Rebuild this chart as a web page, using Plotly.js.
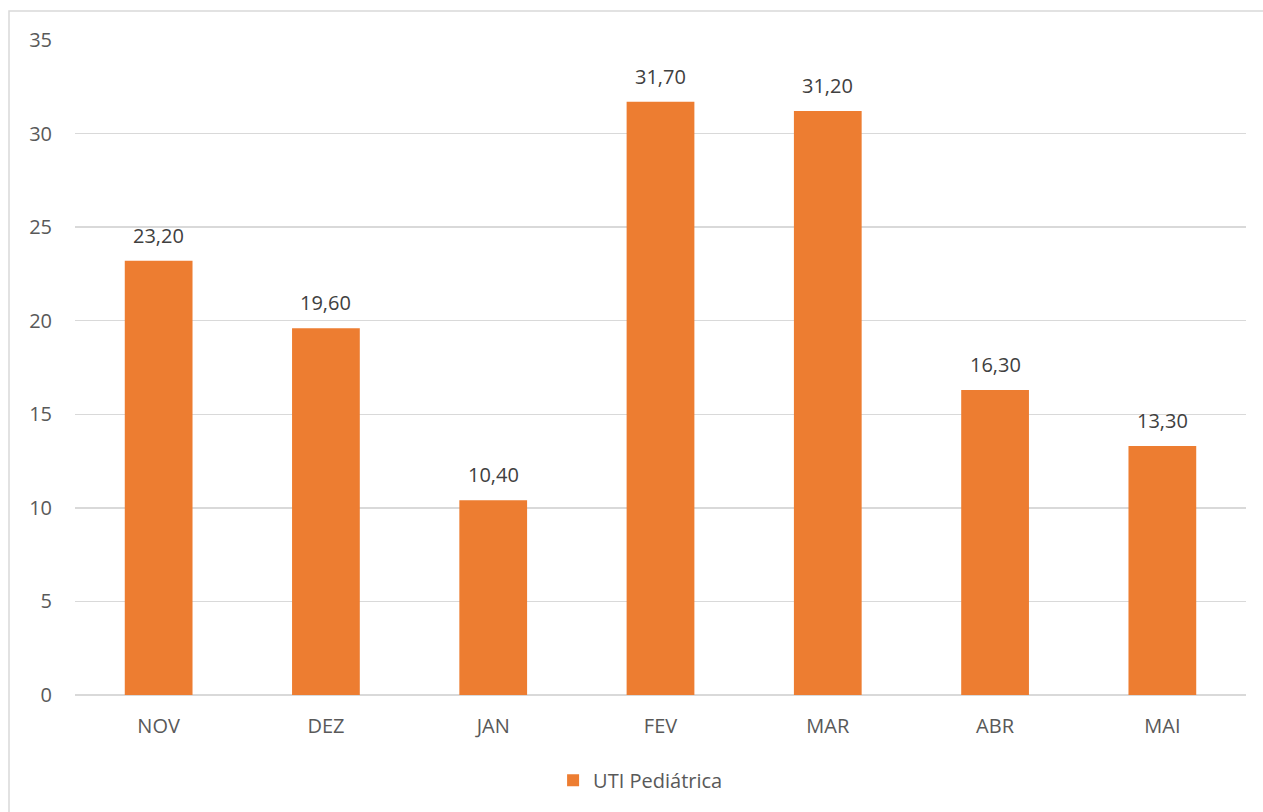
<!DOCTYPE html>
<html>
<head>
<meta charset="utf-8">
<script src="https://cdn.plot.ly/plotly-3.0.1.min.js"></script>
<style>html,body{margin:0;padding:0;background:#fff;}#chart{width:1263px;height:812px;}</style>
</head>
<body>
<div id="chart"></div>
<script>
const months = ["NOV", "DEZ", "JAN", "FEV", "MAR", "ABR", "MAI"];
const utiPediatrica = [23.2, 19.6, 10.4, 31.7, 31.2, 16.3, 13.3];
const yTicks = [0, 5, 10, 15, 20, 25, 30, 35];
const seriesName = "UTI Pediátrica";

const FONT = "'Open Sans', 'Noto Sans', sans-serif";

const trace = {
  type: "bar",
  x: months,
  y: utiPediatrica,
  name: seriesName,
  marker: {color: "#ED7D31"},
  hoverinfo: "none"
};

const labels = months.map((m, i) => ({
  x: m,
  y: utiPediatrica[i],
  xref: "x", yref: "y",
  text: utiPediatrica[i].toFixed(2).replace(".", ","),
  showarrow: false,
  yanchor: "bottom",
  yshift: 10,
  font: {family: FONT, size: 20, color: "#404040"}
}));

const layout = {
  width: 1263,
  height: 812,
  margin: {l: 75, r: 17, t: 40, b: 117},
  paper_bgcolor: "#ffffff",
  plot_bgcolor: "#ffffff",
  separators: ",.",
  font: {family: FONT, size: 20, color: "#595959"},
  bargap: 0.595,
  showlegend: true,
  legend: {
    orientation: "h",
    x: 0.483, xanchor: "center",
    y: -0.13, yanchor: "middle",
    itemwidth: 30,
    font: {family: FONT, size: 20, color: "#595959"}
  },
  xaxis: {
    type: "category",
    showgrid: false,
    zeroline: false,
    showline: false,
    ticks: "",
    ticklabelstandoff: 17,
    tickfont: {size: 20, color: "#595959"}
  },
  yaxis: {
    range: [0, 35],
    tickvals: yTicks,
    showgrid: true,
    gridcolor: "#D9D9D9",
    gridwidth: 1.5,
    zeroline: true,
    zerolinecolor: "#D9D9D9",
    zerolinewidth: 1.5,
    showline: false,
    ticks: "",
    ticklabelstandoff: 22,
    tickfont: {size: 20, color: "#595959"}
  },
  annotations: labels,
  shapes: [{
    type: "rect", xref: "paper", yref: "paper",
    x0: -66/1171, x1: 1.02, y0: -0.25, y1: 1 + 29/655,
    line: {color: "#D9D9D9", width: 1.5},
    fillcolor: "rgba(0,0,0,0)",
    layer: "below"
  }]
};

Plotly.newPlot("chart", [trace], layout, {displayModeBar: false, staticPlot: true});
</script>
</body>
</html>
